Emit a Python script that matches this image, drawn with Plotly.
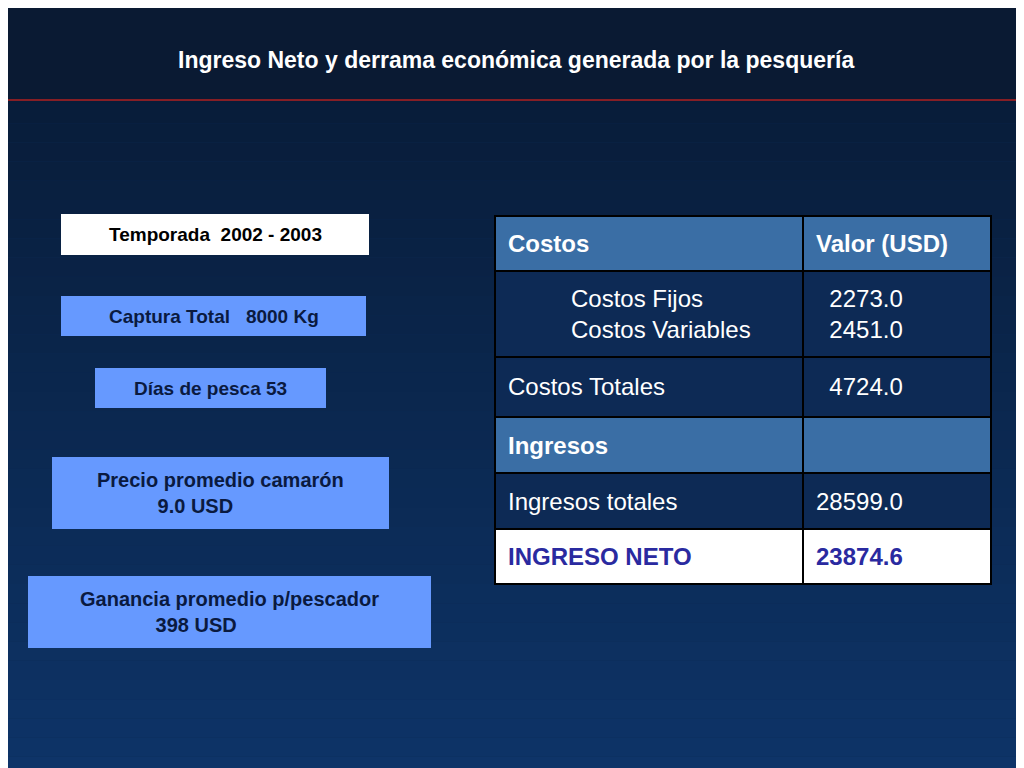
import plotly.graph_objects as go

W, H = 1024, 768

title = "Ingreso Neto y derrama económica generada por la pesquería"

box_texts = ["Temporada  2002 - 2003", "Captura Total   8000 Kg", "Días de pesca 53",
             "Precio promedio camarón<br>       9.0 USD                ",
             "Ganancia promedio p/pescador<br>       398 USD                   "]

row_labels = ["Costos", "Costos Fijos<br>Costos Variables", "Costos Totales",
              "Ingresos", "Ingresos totales", "INGRESO NETO"]
row_values = ["Valor (USD)", "  2273.0<br>  2451.0", "  4724.0", "", "28599.0", "23874.6"]


def px(x):
    return x / W


def py(y):
    return 1 - y / H


fig = go.Figure()
shapes = []
annotations = []

# background gradient
n = 40
for i in range(n):
    t = i / (n - 1)
    r = int(8 + (14 - 8) * t)
    g = int(26 + (52 - 26) * t)
    b = int(52 + (104 - 52) * t)
    shapes.append(dict(type="rect", xref="paper", yref="paper", x0=0, x1=1,
                       y0=1 - (i + 1) / n, y1=1 - i / n, line_width=0,
                       fillcolor=f"rgb({r},{g},{b})", layer="below"))
shapes.append(dict(type="rect", xref="paper", yref="paper", x0=0, x1=1, y0=py(92), y1=1,
                   line_width=0, fillcolor="#0a1a33", layer="below"))
shapes.append(dict(type="line", xref="paper", yref="paper", x0=0, x1=1, y0=py(92), y1=py(92),
                   line=dict(color="#b02020", width=1.5)))
annotations.append(dict(text=f"<b>{title}</b>", x=px(508), y=py(52), xref="paper", yref="paper",
                        xanchor="center", yanchor="middle",
                        showarrow=False, font=dict(size=23, color="white")))

# left boxes
boxes = [(53, 361, 206, 247, "white", 19), (53, 358, 288, 328, "#6699ff", 19),
         (87, 318, 360, 400, "#6699ff", 19), (44, 381, 449, 521, "#6699ff", 20),
         (20, 423, 568, 640, "#6699ff", 20)]
for (x0, x1, y0, y1, c, fs), txt in zip(boxes, box_texts):
    shapes.append(dict(type="rect", xref="paper", yref="paper", x0=px(x0), x1=px(x1),
                       y0=py(y1), y1=py(y0), fillcolor=c, line_width=0))
    annotations.append(dict(text=f"<b>{txt}</b>", x=px((x0 + x1) / 2), y=py((y0 + y1) / 2),
                            xref="paper", yref="paper", showarrow=False, align="center",
                            xanchor="center", yanchor="middle",
                            font=dict(size=fs, color="#000000" if c == "white" else "#0a1a40")))

# table
rows = [208, 263, 349, 409, 465, 521, 576]
fills = ["#3a6ea5", "#0d2a55", "#0d2a55", "#3a6ea5", "#0d2a55", "white"]
xl, xm, xr = 487, 795, 983
for i in range(6):
    y0, y1 = rows[i], rows[i + 1]
    for x0, x1 in [(xl, xm), (xm, xr)]:
        shapes.append(dict(type="rect", xref="paper", yref="paper", x0=px(x0), x1=px(x1),
                           y0=py(y1), y1=py(y0), fillcolor=fills[i],
                           line=dict(color="black", width=2)))
    bold = i in (0, 3, 5)
    col = "#2a2aa0" if i == 5 else "white"
    lab = row_labels[i]
    val = row_values[i]
    lx = 561 if i == 1 else 498
    for x, t in [(lx, lab), (806, val)]:
        if not t:
            continue
        annotations.append(dict(text=f"<b>{t}</b>" if bold else t, x=px(x), y=py((y0 + y1) / 2),
                                xref="paper", yref="paper", showarrow=False, xanchor="left",
                                yanchor="middle", align="left",
                                font=dict(size=24, color=col)))

fig.update_layout(width=W, height=H, margin=dict(l=0, r=0, t=0, b=0),
                  paper_bgcolor="#0d2a55", plot_bgcolor="rgba(0,0,0,0)",
                  xaxis=dict(visible=False), yaxis=dict(visible=False),
                  shapes=shapes, annotations=annotations,
                  font=dict(family="Liberation Sans, Arial, sans-serif"))
fig.write_html("out.html")
